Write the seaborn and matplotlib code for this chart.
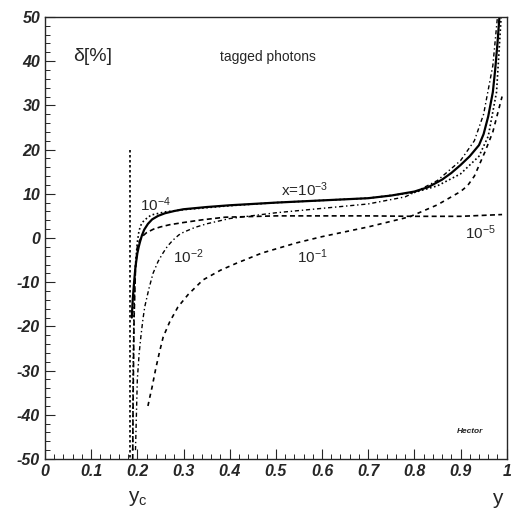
import numpy as np
import pandas as pd
import matplotlib
matplotlib.use('Agg')
import matplotlib.pyplot as plt
from matplotlib.ticker import MultipleLocator, FuncFormatter
import seaborn as sns

# curves, delta[%] against y
y_e3 = [0.188, 0.19, 0.193, 0.196, 0.2, 0.203, 0.206, 0.21, 0.215, 0.223, 0.232, 0.245, 0.26, 0.28,
        0.3, 0.35, 0.4, 0.5, 0.6, 0.7, 0.75, 0.8, 0.83, 0.86, 0.88, 0.9, 0.92, 0.94, 0.95,
        0.96, 0.97, 0.975, 0.98, 0.985]
d_e3 = [-18, -14, -10, -6.5, -3.5, -2, -0.8, 0.6, 1.9, 3.2, 4.2, 5.0, 5.6, 6.1,
        6.5, 7.0, 7.4, 8.0, 8.5, 9.0, 9.6, 10.5, 11.5, 13.2, 14.7, 16.5, 18.5, 21, 23.5,
        27.5, 33, 38, 44, 51]

y_e4 = [0.19, 0.191, 0.193, 0.196, 0.2, 0.203, 0.206, 0.21, 0.216, 0.23, 0.26, 0.3, 0.4, 0.5,
        0.6, 0.7, 0.8, 0.85, 0.9, 0.94, 0.96, 0.978, 0.988]
d_e4 = [-48, -30, -15, -6, -1, 1.2, 2.5, 3.4, 4.1, 5.2, 5.9, 6.4, 7.3, 8.0,
        8.5, 9.0, 10.3, 11.8, 14.5, 18.5, 23, 33, 50]

y_e2 = [0.196, 0.2, 0.204, 0.208, 0.212, 0.216, 0.225, 0.234, 0.245, 0.255, 0.265, 0.277, 0.29,
        0.3, 0.325, 0.35, 0.4, 0.5, 0.6, 0.7, 0.78, 0.8, 0.85, 0.9, 0.93, 0.95, 0.97, 0.98]
d_e2 = [-48, -32, -26, -22, -18.5, -15.6, -11.5, -8, -5.3, -3.5, -1.9, -0.5, 0.7,
        1.3, 2.4, 3.2, 4.4, 5.7, 6.7, 7.7, 9.3, 10.3, 13, 17.5, 22, 28, 39, 50]

y_e5 = [0.19, 0.191, 0.193, 0.196, 0.2, 0.205, 0.21, 0.22, 0.235, 0.25, 0.27, 0.3, 0.34, 0.39,
        0.5, 0.6, 0.7, 0.8, 0.9, 0.99]
d_e5 = [-50, -35, -18, -7, -2, -0.6, 0.3, 1.2, 2.0, 2.5, 3.0, 3.5, 4.1, 4.7,
        5.0, 5.0, 5.0, 4.9, 4.9, 5.3]

y_e1 = [0.223, 0.226, 0.232, 0.24, 0.248, 0.256, 0.27, 0.288, 0.31, 0.342, 0.38, 0.415, 0.47,
        0.545, 0.6, 0.7, 0.79, 0.85, 0.9, 0.915, 0.93, 0.953, 0.97, 0.99]
d_e1 = [-38, -36.5, -33.7, -29.5, -25.8, -22.4, -19, -15.6, -12.8, -9.5, -7.3, -5.7, -3.4,
        -1.1, 0.3, 2.5, 4.8, 7.5, 10.5, 11.8, 14, 19.5, 24, 32]

yc_x = [0.184, 0.184]
yc_d = [20, -50]

x_ticks = [0, 0.1, 0.2, 0.3, 0.4, 0.5, 0.6, 0.7, 0.8, 0.9, 1]
y_ticks = [-50, -40, -30, -20, -10, 0, 10, 20, 30, 40, 50]

sns.set_style('ticks')
plt.rcParams['font.family'] = ['Liberation Sans', 'DejaVu Sans']
plt.rcParams['axes.unicode_minus'] = False
plt.rcParams['mathtext.default'] = 'regular'

fig = plt.figure(figsize=(5.13, 5.14), dpi=100)
ax = fig.add_axes([0.0877, 0.107, 0.9, 0.86])

kw = dict(ax=ax, color='black', estimator=None, sort=False, legend=False)
sns.lineplot(x=y_e5, y=d_e5, linestyle=(0, (3, 2)), linewidth=1.2, **kw)
sns.lineplot(x=y_e1, y=d_e1, linestyle=(0, (2.5, 2.5)), linewidth=1.2, **kw)
sns.lineplot(x=y_e2, y=d_e2, linestyle=(0, (3, 2, 1, 2)), linewidth=1.0, **kw)
sns.lineplot(x=y_e3, y=d_e3, linestyle='-', linewidth=1.6, **kw)
sns.lineplot(x=y_e4, y=d_e4, linestyle=(0, (1, 1.5)), linewidth=1.2, **kw)
sns.lineplot(x=yc_x, y=yc_d, linestyle=(0, (1.5, 1.5)), linewidth=1.2, **kw)

ax.set_xlim(0, 1)
ax.set_ylim(-50, 50)
ax.set_xticks(x_ticks)
ax.set_yticks(y_ticks)
ax.xaxis.set_minor_locator(MultipleLocator(0.02))
ax.yaxis.set_minor_locator(MultipleLocator(2))
ax.xaxis.set_major_formatter(FuncFormatter(lambda v, p: '%g' % v))
ax.yaxis.set_major_formatter(FuncFormatter(lambda v, p: '%d' % v))
ax.tick_params(which='both', direction='in', top=False, right=False)
ax.tick_params(which='major', length=7, width=0.8)
ax.tick_params(which='minor', length=3.5, width=0.7)
for lab in ax.get_xticklabels() + ax.get_yticklabels():
    lab.set_fontweight('bold')
    lab.set_fontstyle('italic')
    lab.set_fontsize(11.5)
ax.set_xlabel('')
ax.set_ylabel('')
for s in ax.spines.values():
    s.set_visible(True)
    s.set_linewidth(1.0)

ax.text(0.104, 41, 'δ[%]', fontsize=14, ha='center', va='center')
ax.text(0.483, 41, 'tagged photons', fontsize=10, ha='center', va='center')
ax.text(0.24, 7.5, r'$10^{-4}$', fontsize=11, ha='center', va='center')
ax.text(0.563, 10.9, r'x=$10^{-3}$', fontsize=11, ha='center', va='center')
ax.text(0.31, -4.3, r'$10^{-2}$', fontsize=11, ha='center', va='center')
ax.text(0.58, -4.3, r'$10^{-1}$', fontsize=11, ha='center', va='center')
ax.text(0.942, 1.1, r'$10^{-5}$', fontsize=11, ha='center', va='center')
ax.text(0.92, -43.7, 'Hector', fontsize=6, fontweight='bold', fontstyle='italic',
        ha='center', va='center')

tr = ax.get_xaxis_transform()
ax.text(0.2, -0.09, r'y$_c$', fontsize=15, ha='center', va='center', transform=tr)
ax.text(0.98, -0.09, 'y', fontsize=15, ha='center', va='center', transform=tr)

fig.savefig('out.png', dpi=100)
